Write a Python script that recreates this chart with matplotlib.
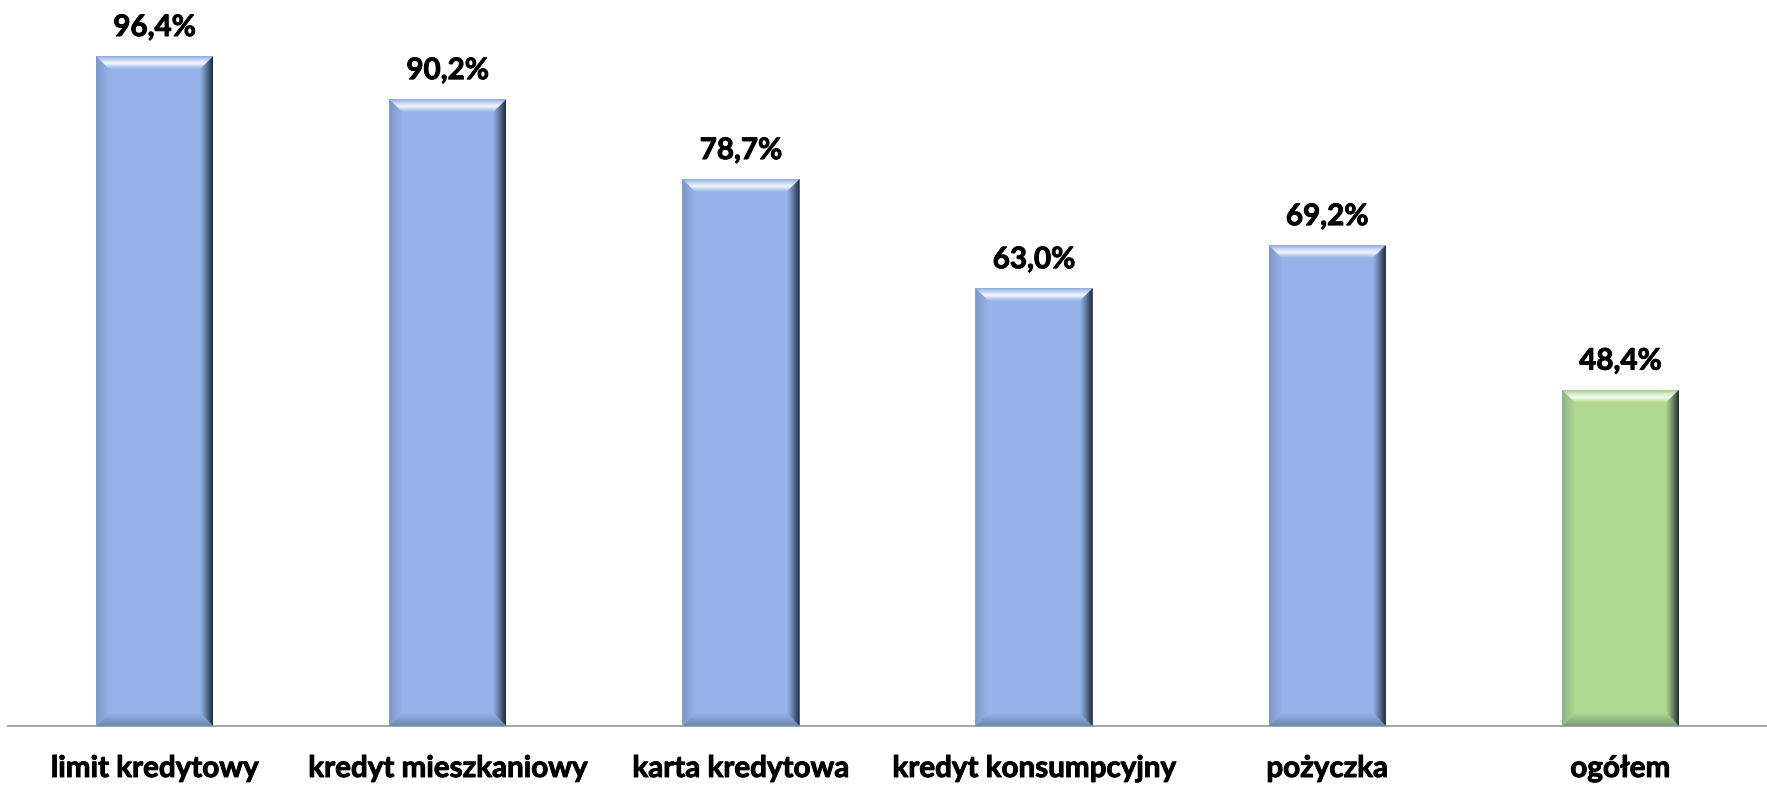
import numpy as np
import matplotlib
matplotlib.use("Agg")
import matplotlib.pyplot as plt
import matplotlib.patheffects as pe
from matplotlib.patches import Polygon
from matplotlib.colors import to_rgb

categories = ["limit kredytowy", "kredyt mieszkaniowy", "karta kredytowa",
              "kredyt konsumpcyjny", "pożyczka", "ogółem"]
values = [96.4, 90.2, 78.7, 63.0, 69.2, 48.4]
value_labels = ["96,4%", "90,2%", "78,7%", "63,0%", "69,2%", "48,4%"]

BLUE = "#95B3E8"
GREEN = "#B0D890"
bar_colors = [BLUE, BLUE, BLUE, BLUE, BLUE, GREEN]

W, H, DPI = 1767, 785, 100
fig = plt.figure(figsize=(W / DPI, H / DPI), dpi=DPI)
fig.patch.set_facecolor("white")

ax_left, ax_bottom = 8 / W, (H - 726) / H
ax_w, ax_h = 1 - ax_left, 726 / H
ax = fig.add_axes([ax_left, ax_bottom, ax_w, ax_h])
ymax = 726 / 6.95
ax.set_xlim(-0.5, len(categories) - 0.5)
ax.set_ylim(0, ymax)
ax.set_autoscale_on(False)

for side in ("top", "right", "left"):
    ax.spines[side].set_visible(False)
ax.spines["bottom"].set_color("#A6A6A6")
ax.spines["bottom"].set_linewidth(1.4)
ax.set_yticks([])

x = np.arange(len(categories))
bar_w = 0.4
bars = ax.bar(x, values, width=bar_w, color=bar_colors, zorder=2, linewidth=0)

# pixel -> data conversion factors
px_x = (ax_w * W) / len(categories)
px_y = (ax_h * H) / ymax
bev = 13.0
bx, by = bev / px_x, bev / px_y


def mix(c1, c2, t):
    c1, c2 = np.array(to_rgb(c1)), np.array(to_rgb(c2))
    return tuple(c1 * (1 - t) + c2 * t)


def gradient(stops, n=64):
    pos = np.array([s[0] for s in stops])
    cols = np.array([to_rgb(s[1]) for s in stops])
    t = np.linspace(0, 1, n)
    return np.stack([np.interp(t, pos, cols[:, k]) for k in range(3)], axis=-1)


def face(poly_pts, extent, grad, vertical):
    poly = Polygon(poly_pts, closed=True, transform=ax.transData,
                   facecolor="none", edgecolor="none")
    ax.add_patch(poly)
    if vertical:
        img = grad[:, None, :]          # rows from top to bottom
    else:
        img = grad[None, :, :]          # columns from left to right
    im = ax.imshow(img, extent=extent, aspect="auto", origin="upper",
                   interpolation="bilinear", zorder=3)
    im.set_clip_path(poly)


for rect, col in zip(bars, bar_colors):
    x0 = rect.get_x()
    x1 = x0 + rect.get_width()
    y0 = 0.0
    y1 = rect.get_height()
    light = mix(col, "white", 0.88)
    edge_top = mix(col, "#6080B0", 0.15)
    dark = mix(col, "#0E1522", 0.88)
    left_dark = mix(col, "#30406A", 0.25)
    bottom_dark = mix(col, "#203050", 0.35)

    # top bevel: edge tone, bright highlight, back to base
    g_top = gradient([(0, edge_top), (0.25, mix(col, "white", 0.4)),
                      (0.55, light), (1.0, col)])
    face([(x0, y1), (x1, y1), (x1 - bx, y1 - by), (x0 + bx, y1 - by)],
         (x0, x1, y1 - by, y1), g_top, vertical=True)

    # bottom bevel
    g_bot = gradient([(0, col), (1.0, bottom_dark)])
    face([(x0, y0), (x1, y0), (x1 - bx, y0 + by), (x0 + bx, y0 + by)],
         (x0, x1, y0, y0 + by), g_bot, vertical=True)

    # left bevel
    g_left = gradient([(0, left_dark), (1.0, col)])
    face([(x0, y0), (x0, y1), (x0 + bx, y1 - by), (x0 + bx, y0 + by)],
         (x0, x0 + bx, y0, y1), g_left, vertical=False)

    # right bevel: base fading into a deep shadow at the outer edge
    g_right = gradient([(0, col), (0.45, mix(col, "#0E1522", 0.35)),
                        (1.0, dark)])
    face([(x1, y0), (x1, y1), (x1 - bx, y1 - by), (x1 - bx, y0 + by)],
         (x1 - bx, x1, y0, y1), g_right, vertical=False)

font = "Lato"
fsize = 21.3
thicken = [pe.withStroke(linewidth=0.7, foreground="black")]

for xi, v, lab in zip(x, values, value_labels):
    ax.annotate(lab, (xi, v), xytext=(0, 14.4), textcoords="offset points",
                ha="center", va="baseline", fontsize=fsize, fontweight="bold",
                family=font, color="black", zorder=5, annotation_clip=False,
                path_effects=thicken)

ax.set_xticks(x)
ax.set_xticklabels([])
ax.tick_params(axis="x", length=0)
for xi, cat in zip(x, categories):
    ax.annotate(cat, (xi, 0), xytext=(0, -36.7), textcoords="offset points",
                ha="center", va="baseline", fontsize=fsize, fontweight="bold",
                family=font, color="black", annotation_clip=False,
                path_effects=thicken)

fig.savefig("out.png", dpi=DPI, facecolor="white")
